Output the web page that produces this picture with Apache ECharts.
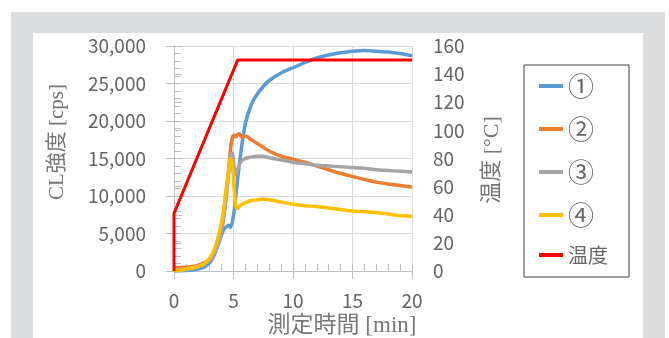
<!DOCTYPE html>
<html>
<head>
<meta charset="utf-8">
<script src="https://cdn.jsdelivr.net/npm/echarts@6/dist/echarts.min.js"></script>
<style>
html,body{margin:0;padding:0;background:#fff;}
#c{width:669px;height:338px;}
</style>
</head>
<body>
<div id="c"></div>
<script>
// time axis [min]
var times = [0, 0.5, 1, 1.5, 2, 2.5, 3, 3.25, 3.5, 3.75, 4, 4.2, 4.4, 4.6, 4.75, 4.9, 5.05, 5.2, 5.35, 5.5, 5.7, 6, 6.5, 7, 7.5, 8, 9, 10, 11, 12, 13, 14, 15, 16, 17, 18, 19, 20];
// CL intensity [cps]
var s1 = [0, 20, 60, 130, 250, 500, 1100, 1700, 2600, 3700, 4800, 5600, 5900, 6100, 5800, 6500, 8000, 10000, 12300, 14300, 16800, 19700, 22200, 23600, 24600, 25400, 26400, 27100, 27800, 28400, 28800, 29100, 29300, 29400, 29300, 29200, 29000, 28700];
var s2 = [400, 450, 500, 600, 750, 1050, 1600, 2100, 2900, 4100, 5800, 7700, 10300, 13600, 16300, 17800, 18100, 17900, 18200, 18300, 17800, 18000, 17500, 17000, 16500, 16000, 15300, 14900, 14500, 14000, 13500, 13000, 12600, 12200, 11850, 11600, 11400, 11200];
var s3 = [100, 150, 250, 380, 550, 850, 1400, 1900, 2700, 3800, 5400, 7300, 10000, 13200, 15400, 15700, 14000, 12800, 13500, 14200, 14700, 15000, 15200, 15300, 15300, 15100, 14800, 14500, 14300, 14100, 14000, 13900, 13800, 13700, 13500, 13400, 13300, 13200];
var s4 = [0, 100, 250, 400, 600, 900, 1700, 2400, 3400, 4800, 6500, 8600, 11200, 13400, 15000, 14200, 11000, 8600, 8300, 8600, 8900, 9100, 9400, 9500, 9600, 9500, 9200, 8900, 8700, 8600, 8400, 8200, 8000, 7900, 7800, 7600, 7400, 7300];
// temperature [°C]
var tempTimes = [0, 0, 5.35, 20];
var tempValues = [0, 41, 150, 150];

var seriesNames = ['①', '②', '③', '④', '温度'];
var colors = ['#5b9bd5', '#ed7d31', '#a5a5a5', '#ffc000', '#ff0000'];

function pairs(xs, ys) { return xs.map(function (x, i) { return [x, ys[i]]; }); }

var labelFont = 'Noto Sans CJK JP';
var nameFont = 'Liberation Serif, Noto Sans CJK JP';
var tickColor = '#bfbfbf';
var gridColor = '#d9d9d9';
var textColor = '#666666';

var chart = echarts.init(document.getElementById('c'), null, {renderer: 'canvas'});
var dataSeries = [s1, s2, s3, s4].map(function (v, i) {
  return {
    name: seriesNames[i], type: 'line', xAxisIndex: 0, yAxisIndex: 0,
    data: pairs(times, v), showSymbol: false, symbol: 'none',
    smooth: 0.25, lineStyle: {color: colors[i], width: 3.5}, itemStyle: {color: colors[i]},
    z: 3 + i
  };
});
dataSeries.push({
  name: seriesNames[4], type: 'line', xAxisIndex: 0, yAxisIndex: 1,
  data: pairs(tempTimes, tempValues), showSymbol: false, symbol: 'none',
  lineStyle: {color: colors[4], width: 3}, itemStyle: {color: colors[4]}, z: 8
});

var option = {
  animation: false,
  backgroundColor: '#ffffff',
  graphic: [
    {type: 'rect', z: -10, silent: true, shape: {x: 11, y: 12, width: 654, height: 326}, style: {fill: '#dcdddf'}},
    {type: 'rect', z: -9, silent: true, shape: {x: 33, y: 33, width: 610, height: 305}, style: {fill: '#ffffff'}},
    {type: 'text', z: 10, x: 57, y: 142, rotation: Math.PI / 2,
      style: {text: 'CL強度 [cps]', font: '21px ' + nameFont, fill: '#777777', align: 'center', verticalAlign: 'middle'}},
    {type: 'text', z: 10, x: 492, y: 160, rotation: Math.PI / 2,
      style: {text: '温度 [°C]', font: '22px ' + nameFont, fill: '#777777', align: 'center', verticalAlign: 'middle'}},
    {type: 'text', z: 10, x: 342, y: 326,
      style: {text: '測定時間 [min]', font: '23px ' + nameFont, fill: '#777777', align: 'center', verticalAlign: 'middle'}}
  ],
  grid: {left: 174, right: 257, top: 46, bottom: 67, containLabel: false},
  legend: {
    orient: 'vertical', left: 524, top: 65,
    padding: [8, 21, 12, 15], itemGap: 17,
    borderColor: '#404040', borderWidth: 1, backgroundColor: '#ffffff',
    icon: 'rect', itemWidth: 24, itemHeight: 4,
    textStyle: {fontFamily: labelFont, fontSize: 20, color: textColor, lineHeight: 20,
      rich: {c: {fontFamily: labelFont, fontSize: 26, color: textColor, lineHeight: 20}}},
    formatter: function (n) { return n === '温度' ? n : '{c|' + n + '}'; },
    data: seriesNames
  },
  xAxis: [
    {type: 'value', min: 0, max: 20, interval: 5, position: 'bottom',
      axisLine: {show: true, onZero: false, lineStyle: {color: tickColor}},
      axisTick: {show: true, inside: false, length: 8, lineStyle: {color: tickColor}},
      splitLine: {show: true, lineStyle: {color: gridColor}},
      axisLabel: {margin: 20, fontFamily: labelFont, fontSize: 19, color: textColor}},
    {type: 'value', min: 0, max: 20, interval: 1, position: 'bottom',
      axisLine: {show: false, onZero: false},
      axisTick: {show: true, inside: true, length: 7, lineStyle: {color: tickColor}},
      splitLine: {show: false}, axisLabel: {show: false}}
  ],
  yAxis: [
    {type: 'value', min: 0, max: 30000, interval: 5000, position: 'left',
      axisLine: {show: true, lineStyle: {color: tickColor}},
      axisTick: {show: true, inside: false, length: 8, lineStyle: {color: tickColor}},
      splitLine: {show: true, lineStyle: {color: gridColor}},
      axisLabel: {margin: 28, fontFamily: labelFont, fontSize: 19, color: textColor,
        formatter: function (v) { return v.toLocaleString('en-US'); }}},
    {type: 'value', min: 0, max: 160, interval: 20, position: 'right',
      axisLine: {show: true, lineStyle: {color: tickColor}},
      axisTick: {show: true, inside: false, length: 8, lineStyle: {color: tickColor}},
      splitLine: {show: false},
      axisLabel: {margin: 21, fontFamily: labelFont, fontSize: 19, color: textColor}},
    {type: 'value', min: 0, max: 30000, interval: 1000, position: 'left',
      axisLine: {show: false},
      axisTick: {show: true, inside: true, length: 7, lineStyle: {color: tickColor}},
      splitLine: {show: false}, axisLabel: {show: false}}
  ],
  series: dataSeries
};
chart.setOption(option);
</script>
</body>
</html>
